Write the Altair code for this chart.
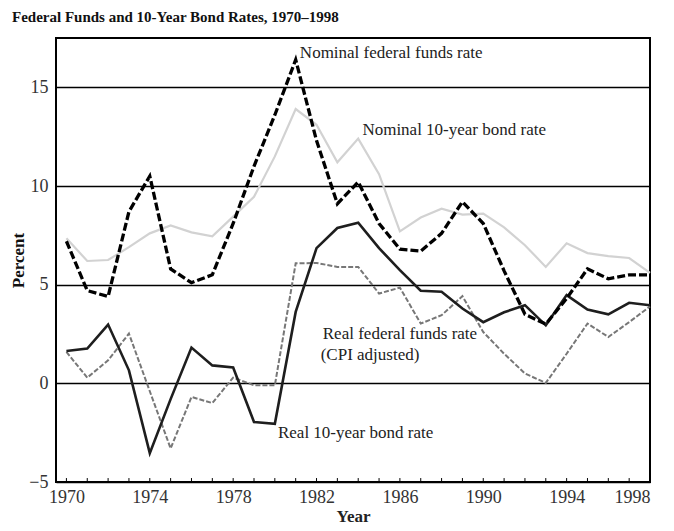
import altair as alt
import pandas as pd

years = list(range(1970, 1999))

nominal_fed_funds = [7.2, 4.7, 4.4, 8.7, 10.5, 5.8, 5.1, 5.5, 8.1, 11.0, 13.6, 16.4, 12.3, 9.1, 10.2,
                     8.1, 6.8, 6.7, 7.6, 9.2, 8.1, 5.7, 3.5, 3.0, 4.3, 5.8, 5.3, 5.5, 5.5]
nominal_10yr = [7.35, 6.2, 6.25, 6.9, 7.6, 8.0, 7.65, 7.45, 8.45, 9.45, 11.5, 13.9, 13.1, 11.2, 12.4,
                10.6, 7.7, 8.4, 8.85, 8.55, 8.6, 7.9, 7.0, 5.9, 7.1, 6.6, 6.45, 6.35, 5.6]
real_10yr = [1.64, 1.76, 2.98, 0.66, -3.54, -0.8, 1.81, 0.91, 0.8, -1.96, -2.05, 3.62, 6.85, 7.87, 8.14,
             6.85, 5.74, 4.69, 4.64, 3.79, 3.1, 3.6, 3.96, 2.94, 4.47, 3.74, 3.5, 4.08, 3.96]
real_fed_funds = [1.59, 0.29, 1.17, 2.52, -0.4, -3.3, -0.69, -1.0, 0.29, -0.1, -0.1, 6.08, 6.1, 5.9, 5.9,
                  4.55, 4.85, 3.03, 3.45, 4.42, 2.6, 1.5, 0.5, 0.02, 1.5, 3.03, 2.35, 3.1, 3.9]

y_ticks = [-5, 0, 5, 10, 15]

label_texts = ["Nominal federal funds rate", "Nominal 10-year bond rate",
               "Real federal funds rate", "(CPI adjusted)", "Real 10-year bond rate"]
label_years = [1981.2, 1984.2, 1982.3, 1982.2, 1980.15]
label_values = [16.75, 12.85, 2.5, 1.45, -2.5]

FONT = "Liberation Serif"

df = pd.DataFrame({
    "year": years * 4,
    "value": nominal_fed_funds + nominal_10yr + real_10yr + real_fed_funds,
    "series": (["nff"] * len(years) + ["n10"] * len(years) +
               ["r10"] * len(years) + ["rff"] * len(years)),
})
ticks_df = pd.DataFrame({"year": years, "value": [-5] * len(years), "hi": [-4.8] * len(years)})
labels_df = pd.DataFrame({"year": label_years, "value": label_values, "text": label_texts})

xscale = alt.Scale(domain=[1969.5, 1998], nice=False, zero=False)
yscale = alt.Scale(domain=[-5, 17.5], nice=False, zero=False)

xaxis = alt.Axis(values=years, format="d", labelExpr="datum.value % 4 == 2 ? datum.label : ''",
                 ticks=False, grid=False, domain=False, labelFont=FONT, labelFontSize=18,
                 labelColor="#333", labelPadding=6, title="Year", titleFont=FONT,
                 titleFontSize=17, titleFontWeight="bold", titleColor="#222",
                 titleBaseline="middle", titleY=34)
yaxis = alt.Axis(values=y_ticks, ticks=False, grid=True, gridColor="#000", gridWidth=1.5,
                 gridOpacity=1, domain=False, labelFont=FONT, labelFontSize=18, labelColor="#333",
                 labelPadding=8, title="Percent", titleFont=FONT, titleFontSize=17,
                 titleFontWeight="bold", titleColor="#111", titleX=-38, titleY=222,
                 titleBaseline="middle", titleAlign="center", titleAngle=-90)

X = alt.X("year:Q", scale=xscale, axis=xaxis)
Y = alt.Y("value:Q", scale=yscale, axis=yaxis)

base = alt.Chart(df).encode(x=X, y=Y)

n10 = base.transform_filter("datum.series == 'n10'").mark_line(color="#d2d2d2", strokeWidth=2.2)
rff = base.transform_filter("datum.series == 'rff'").mark_line(color="#777", strokeWidth=2, strokeDash=[5, 2])
r10 = base.transform_filter("datum.series == 'r10'").mark_line(color="#1e1e1e", strokeWidth=2.6)
nff = base.transform_filter("datum.series == 'nff'").mark_line(color="#000", strokeWidth=3.3, strokeDash=[8, 3])

ticks = alt.Chart(ticks_df).mark_rule(color="#000", strokeWidth=1).encode(
    x=X, y=Y, y2="hi:Q",
)

labels = alt.Chart(labels_df).mark_text(align="left", baseline="middle", font=FONT,
                                        fontSize=17, color="#222").encode(
    x=X, y=Y, text="text:N",
)

chart = alt.layer(n10, rff, r10, nff, ticks, labels).properties(
    width=594, height=444,
    autosize=alt.AutoSizeParams(type="none"),
    padding={"left": 48, "top": 30, "right": 16, "bottom": 46},
    background="white",
    title=alt.TitleParams("Federal Funds and 10-Year Bond Rates, 1970\u20131998", anchor="start",
                          frame="group", dx=-44, dy=13, offset=14, font=FONT, fontSize=15,
                          fontWeight="bold", color="#111", baseline="alphabetic"),
).configure_view(stroke="#000", strokeWidth=2)

chart.save("out.html", embed_options={"renderer": "svg", "actions": False})
